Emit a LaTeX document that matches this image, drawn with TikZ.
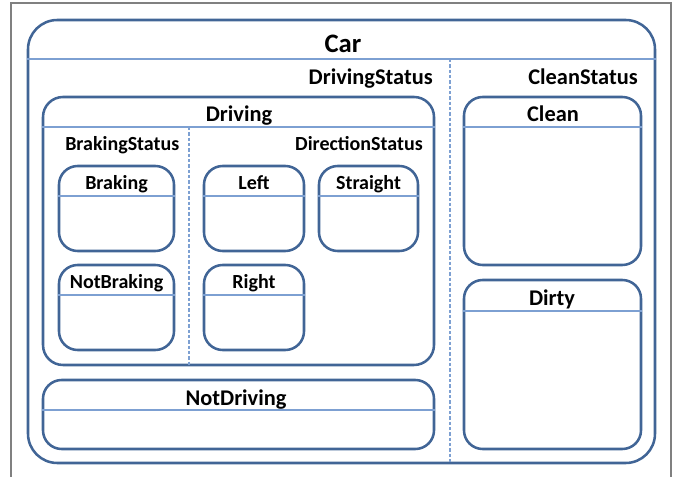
\documentclass[tikz,border=0pt]{standalone}
\usepackage{fontspec}
\setmainfont{Carlito}
\usetikzlibrary{fit}

\definecolor{stateblue}{RGB}{65,101,150}
\definecolor{headblue}{RGB}{125,160,210}
\definecolor{framegray}{RGB}{128,128,128}

\begin{document}
\begin{tikzpicture}[x=0.75pt, y=-0.75pt,
    statebox/.style={draw=stateblue, line width=1.9pt, rounded corners=14pt, inner sep=0pt},
    headline/.style={draw=headblue, line width=0.9pt},
    regionline/.style={draw=headblue, line width=0.9pt, dash pattern=on 2.5pt off 1.5pt},
    bigtitle/.style={font=\bfseries\fontsize{20}{24}\selectfont, inner sep=0pt},
    statetitle/.style={font=\bfseries\fontsize{16.8}{20}\selectfont, inner sep=0pt},
    subtitle/.style={font=\bfseries\fontsize{15}{18}\selectfont, inner sep=0pt}]
    \useasboundingbox (0,0) rectangle (675,477);

    % Page frame
    \draw[framegray, line width=1pt] (11,477) -- (11,3) -- (671,3) -- (671,477);

    % Outer state Car
    \node[statebox, rounded corners=22pt, fit={(28,20) (655,463)}] (car) {};
    \draw[headline] (car.west |- 0,59) -- (car.east |- 0,59);
    \node[bigtitle] (cartitle) at (343,44) {Car};

    % Regions of Car
    \draw[regionline] (450,59) -- (450,0 |- car.south);
    \node[statetitle, anchor=base east] (drivingstatus) at (433,85) {DrivingStatus};
    \node[statetitle, anchor=base east] (cleanstatus) at (638,85) {CleanStatus};

    % Driving with its two regions
    \node[statebox, rounded corners=15pt, fit={(43,97) (434,365)}] (driving) {};
    \draw[headline] (driving.west |- 0,127) -- (driving.east |- 0,127);
    \node[statetitle, anchor=base] (drivingtitle) at (239,122) {Driving};
    \draw[regionline] (189,127) -- (189,0 |- driving.south);
    \node[subtitle, anchor=base west] (brakingstatus) at (65,151) {BrakingStatus};
    \node[subtitle, anchor=base east] (directionstatus) at (423,151) {DirectionStatus};

    % Inner states
    \foreach \name/\txt/\xa/\xb/\ya in {braking/Braking/59/174/166, left/Left/204/304/166,
        straight/Straight/319/418/166, notbraking/NotBraking/59/174/265, right/Right/204/304/265}
    {
      \node[statebox, fit={(\xa,\ya) (\xb,\ya+85)}] (\name) {};
      \draw[headline] (\name.west |- 0,\ya+30) -- (\name.east |- 0,\ya+30);
      \node[subtitle, anchor=base] (\name-title) at (\name.north |- 0,\ya+24) {\txt};
    }

    % NotDriving
    \node[statebox, fit={(43,380) (434,449)}] (notdriving) {};
    \draw[headline] (notdriving.west |- 0,410) -- (notdriving.east |- 0,410);
    \node[statetitle, anchor=base] (notdrivingtitle) at (236,406) {NotDriving};

    % Clean and Dirty
    \node[statebox, fit={(464,97) (641,265)}] (clean) {};
    \draw[headline] (clean.west |- 0,127) -- (clean.east |- 0,127);
    \node[statetitle, anchor=base] (cleantitle) at (553,122) {Clean};
    \node[statebox, fit={(464,280) (641,449)}] (dirty) {};
    \draw[headline] (dirty.west |- 0,311) -- (dirty.east |- 0,311);
    \node[statetitle, anchor=base] (dirtytitle) at (552,306) {Dirty};
\end{tikzpicture}
\end{document}
